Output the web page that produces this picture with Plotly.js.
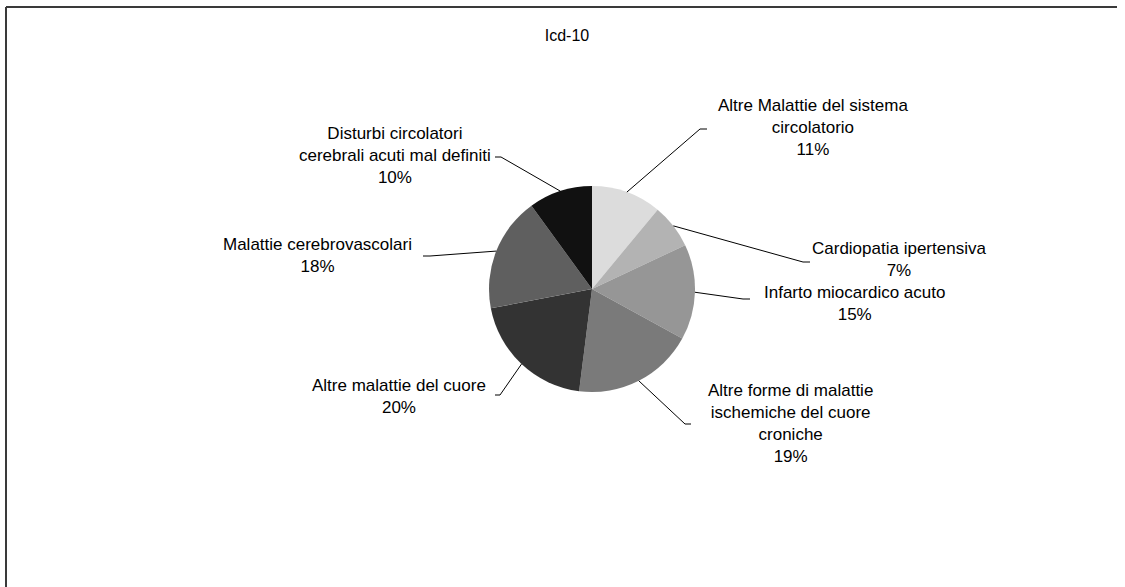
<!DOCTYPE html>
<html>
<head>
<meta charset="utf-8">
<script src="https://cdn.plot.ly/plotly-3.0.1.min.js"></script>
<style>
  html, body { margin: 0; padding: 0; background: #ffffff; }
  #chart { width: 1125px; height: 587px; }
</style>
</head>
<body>
<div id="chart"></div>
<script>
// Deaths by ICD-10 circulatory-disease group (share, %)
const categories = [
  "Altre Malattie del sistema circolatorio",
  "Cardiopatia ipertensiva",
  "Infarto miocardico acuto",
  "Altre forme di malattie ischemiche del cuore croniche",
  "Altre malattie del cuore",
  "Malattie cerebrovascolari",
  "Disturbi circolatori cerebrali acuti mal definiti"
];
const values = [11, 7, 15, 19, 20, 18, 10];

// Wrapped label lines, one entry per category
const labelLines = [
  ["Altre Malattie del sistema", "circolatorio"],
  ["Cardiopatia ipertensiva"],
  ["Infarto miocardico acuto"],
  ["Altre forme di malattie", "ischemiche del cuore", "croniche"],
  ["Altre malattie del cuore"],
  ["Malattie cerebrovascolari"],
  ["Disturbi circolatori", "cerebrali acuti mal definiti"]
];

const chartTitle = "Icd-10";

// ---- styling / layout ----
const W = 1125, H = 587;
const sliceColors = ["#dcdcdc", "#b3b3b3", "#969696", "#7a7a7a", "#333333", "#5f5f5f", "#111111"];
const pieCenter = [592, 289];
const pieRadius = 103;

// Label block centres and leader-line elbow / end points (pixels)
const labelPlacement = [
  { x: 813, y: 128, elbow: [700, 129], end: [707, 129] },
  { x: 899, y: 259, elbow: [803, 262], end: [810, 262] },
  { x: 854, y: 303, elbow: [743, 299], end: [750, 299] },
  { x: 790, y: 423, elbow: [685, 424], end: [691, 424] },
  { x: 399, y: 396, elbow: [500, 395], end: [495, 395] },
  { x: 317, y: 255, elbow: [430, 256], end: [423, 256] },
  { x: 395, y: 155, elbow: [501, 157], end: [495, 157] }
];

const px = x => x / W;
const py = y => 1 - y / H;

const total = values.reduce((a, b) => a + b, 0);
const FONT = "Liberation Sans, Arial, sans-serif";

// Pie trace: clockwise from 12 o'clock, no built-in text
const trace = {
  type: "pie",
  labels: categories,
  values: values,
  sort: false,
  direction: "clockwise",
  rotation: 0,
  textinfo: "none",
  hoverinfo: "label+percent",
  marker: { colors: sliceColors, line: { width: 0 } },
  domain: {
    x: [px(pieCenter[0] - pieRadius), px(pieCenter[0] + pieRadius)],
    y: [py(pieCenter[1] + pieRadius), py(pieCenter[1] - pieRadius)]
  },
  showlegend: false
};

const annotations = [];
const shapes = [];

// Leader lines start at the mid-angle of each slice on the rim
let cum = 0;
values.forEach((v, i) => {
  const mid = (cum + v / 2) / total * 2 * Math.PI;
  cum += v;
  const sx = pieCenter[0] + pieRadius * Math.sin(mid);
  const sy = pieCenter[1] - pieRadius * Math.cos(mid);
  const p = labelPlacement[i];
  shapes.push({
    type: "path",
    xref: "paper", yref: "paper",
    path: `M ${px(sx)} ${py(sy)} L ${px(p.elbow[0])} ${py(p.elbow[1])} L ${px(p.end[0])} ${py(p.end[1])}`,
    line: { color: "#000000", width: 1 }
  });
  const pct = Math.round(v / total * 100) + "%";
  annotations.push({
    xref: "paper", yref: "paper",
    x: px(p.x), y: py(p.y),
    xanchor: "center", yanchor: "middle",
    align: "center",
    showarrow: false,
    text: labelLines[i].concat([pct]).join("<br>"),
    font: { family: FONT, size: 17, color: "#000000" }
  });
});

// Chart frame (top and left edges)
shapes.push({ type: "line", xref: "paper", yref: "paper",
  x0: px(6), y0: py(7), x1: px(1117), y1: py(7),
  line: { color: "#3a3a3a", width: 2 } });
shapes.push({ type: "line", xref: "paper", yref: "paper",
  x0: px(6), y0: py(7), x1: px(6), y1: py(587),
  line: { color: "#3a3a3a", width: 2 } });

const layout = {
  width: W, height: H,
  margin: { l: 0, r: 0, t: 0, b: 0 },
  paper_bgcolor: "#ffffff",
  title: {
    text: chartTitle,
    font: { family: FONT, size: 16, color: "#000000" },
    x: px(567), xanchor: "center",
    y: py(35), yanchor: "middle",
    xref: "paper", yref: "paper"
  },
  annotations: annotations,
  shapes: shapes
};

Plotly.newPlot("chart", [trace], layout, { displayModeBar: false, staticPlot: true });
</script>
</body>
</html>
